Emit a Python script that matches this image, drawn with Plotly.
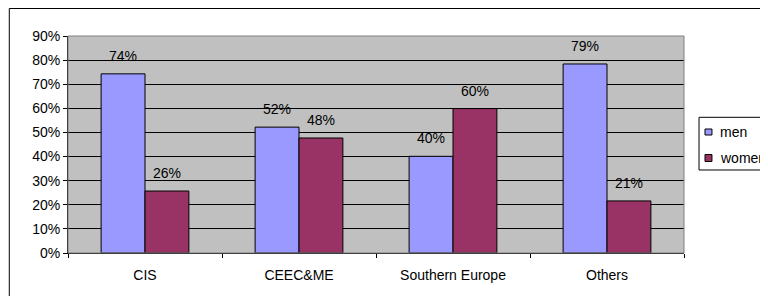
import plotly.graph_objects as go

categories = ["CIS", "CEEC&ME", "Southern Europe", "Others"]
men = [0.743, 0.522, 0.401, 0.784]
women = [0.257, 0.477, 0.599, 0.216]
men_labels = ["74%", "52%", "40%", "79%"]
women_labels = ["26%", "48%", "60%", "21%"]
series_names = ["men", "women"]
series_colors = ["#9999FF", "#993366"]
tick_vals = [0, 0.1, 0.2, 0.3, 0.4, 0.5, 0.6, 0.7, 0.8, 0.9]
tick_text = ["0%", "10%", "20%", "30%", "40%", "50%", "60%", "70%", "80%", "90%"]

FONT = "Liberation Sans, Arial, sans-serif"
FS = 14

fig = go.Figure()
for name, vals, col in zip(series_names, [men, women], series_colors):
    fig.add_trace(go.Bar(name=name, x=categories, y=vals, showlegend=False,
                         marker=dict(color=col, line=dict(color="black", width=1))))

annotations = []
for c, v, t in zip(categories, men, men_labels):
    annotations.append(dict(x=c, y=v, text=t, showarrow=False, xshift=-22, yshift=8,
                            yanchor="bottom", font=dict(family=FONT, size=FS, color="black")))
for c, v, t in zip(categories, women, women_labels):
    annotations.append(dict(x=c, y=v, text=t, showarrow=False, xshift=22, yshift=8,
                            yanchor="bottom", font=dict(family=FONT, size=FS, color="black")))

# manual legend (compact, like the reference)
shapes = [
    dict(type="rect", xref="paper", yref="paper", x0=0, x1=1, y0=0, y1=1,
         line=dict(color="#808080", width=1), layer="above"),
    dict(type="rect", xref="paper", yref="paper", x0=-0.0953, x1=1.3, y0=-0.4, y1=1.1267,
         line=dict(color="black", width=1), layer="above"),
    dict(type="rect", xref="paper", yref="paper", x0=1.0244, x1=1.3, y0=0.3825, y1=0.6253,
         line=dict(color="black", width=1), fillcolor="white", layer="above"),
]
sym_y = [(0.5714, 0.5438), (0.4539, 0.4217)]
txt_y = [0.5576, 0.4378]
for name, col, (ya, yb), ty in zip(series_names, series_colors, sym_y, txt_y):
    shapes.append(dict(type="rect", xref="paper", yref="paper", x0=1.0341, x1=1.0454,
                       y0=yb, y1=ya, line=dict(color="black", width=1), fillcolor=col,
                       layer="above"))
    annotations.append(dict(xref="paper", yref="paper", x=1.0545, y=ty, text=name,
                            showarrow=False, xanchor="left", yanchor="middle",
                            font=dict(family=FONT, size=FS, color="black")))

fig.update_layout(
    width=768, height=296,
    margin=dict(l=60, r=92, t=28, b=51, autoexpand=False),
    paper_bgcolor="white", plot_bgcolor="#C0C0C0",
    barmode="group", bargap=0.43, bargroupgap=0,
    font=dict(family=FONT, size=FS, color="black"),
    showlegend=False,
    annotations=annotations,
    shapes=shapes,
)
fig.update_xaxes(showline=True, linecolor="black", linewidth=1, ticks="outside",
                 tickson="boundaries", ticklen=4, tickcolor="black", showgrid=False,
                 automargin=False, ticklabelstandoff=9,
                 tickfont=dict(family=FONT, size=FS))
fig.update_yaxes(range=[0, 0.9], tickvals=tick_vals, ticktext=tick_text,
                 showline=True, linecolor="black", linewidth=1, ticks="outside",
                 ticklen=4, tickcolor="black", showgrid=True, gridcolor="black",
                 gridwidth=1, zeroline=False, automargin=False,
                 tickfont=dict(family=FONT, size=FS))

fig.write_html("out.html")
